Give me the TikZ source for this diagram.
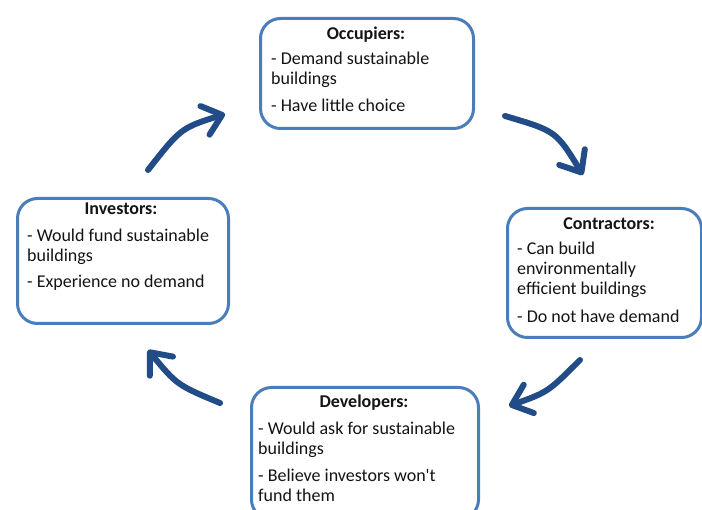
\documentclass[tikz,border=0pt]{standalone}
\usepackage{fontspec}
\setmainfont{Carlito}
\usetikzlibrary{arrows.meta}
\definecolor{boxblue}{RGB}{74,126,187}
\definecolor{arrowblue}{RGB}{34,76,135}
\definecolor{txtcol}{RGB}{20,20,20}
\begin{document}
\begin{tikzpicture}[x=1pt,y=-1pt,
  box/.style={draw=boxblue, line width=3pt, rounded corners=20pt, fill=white, anchor=north west, inner sep=0pt},
  ttl/.style={anchor=base, font=\fontsize{18}{20}\selectfont\bfseries, inner sep=0pt, text=txtcol},
  ln/.style={anchor=base west, font=\fontsize{18}{20}\selectfont, inner sep=0pt, text=txtcol},
  cyc/.style={draw=arrowblue, line width=6pt, line cap=round, -{Straight Barb[length=18pt,width=30pt,round]}}]
\useasboundingbox (0,0) rectangle (702,510);
\fill[white] (0,0) rectangle (702,510);
\clip (0,0) rectangle (702,510);

% boxes
\node[box, minimum width=213pt, minimum height=110pt] (occ) at (259,17) {};
\node[box, minimum width=194pt, minimum height=129pt] (con) at (506,207) {};
\node[box, minimum width=211pt, minimum height=125pt] (inv) at (16,197) {};
\node[box, minimum width=227pt, minimum height=132pt] (dev) at (250,386) {};

% Occupiers
\node[ttl] (occt) at (366,40) {Occupiers:};
\node[ln] (occ1) at (271,65) {- Demand sustainable};
\node[ln] (occ2) at (271,85) {buildings};
\node[ln] (occ3) at (271,112) {- Have little choice};

% Contractors
\node[ttl] (cont) at (609,230) {Contractors:};
\node[ln] (con1) at (517,255) {- Can build};
\node[ln] (con2) at (517,275) {environmentally};
\node[ln] (con3) at (517,295) {efficient buildings};
\node[ln] (con4) at (517,323) {- Do not have demand};

% Investors
\node[ttl] (invt) at (121,215) {Investors:};
\node[ln] (inv1) at (27,242) {- Would fund sustainable};
\node[ln] (inv2) at (27,262) {buildings};
\node[ln] (inv3) at (27,288) {- Experience no demand};

% Developers
\node[ttl] (devt) at (364,408) {Developers:};
\node[ln] (dev1) at (258,435) {- Would ask for sustainable};
\node[ln] (dev2) at (258,455) {buildings};
\node[ln] (dev3) at (258,482) {- Believe investors won\textquotesingle t};
\node[ln] (dev4) at (258,502) {fund them};

% cycle arrows
\coordinate (a1s) at (148,170); \coordinate (a1c) at (181,128); \coordinate (a1e) at (225,114);
\coordinate (a2s) at (505,116); \coordinate (a2c) at (556,131); \coordinate (a2e) at (583,175);
\coordinate (a3s) at (580,360); \coordinate (a3c) at (548,392); \coordinate (a3e) at (509,406);
\coordinate (a4s) at (220,403); \coordinate (a4c) at (177,385); \coordinate (a4e) at (148,350);
\draw[cyc] (a1s) .. controls (a1c) .. (a1e);
\draw[cyc] (a2s) .. controls (a2c) .. (a2e);
\draw[cyc] (a3s) .. controls (a3c) .. (a3e);
\draw[cyc] (a4s) .. controls (a4c) .. (a4e);
\end{tikzpicture}
\end{document}
